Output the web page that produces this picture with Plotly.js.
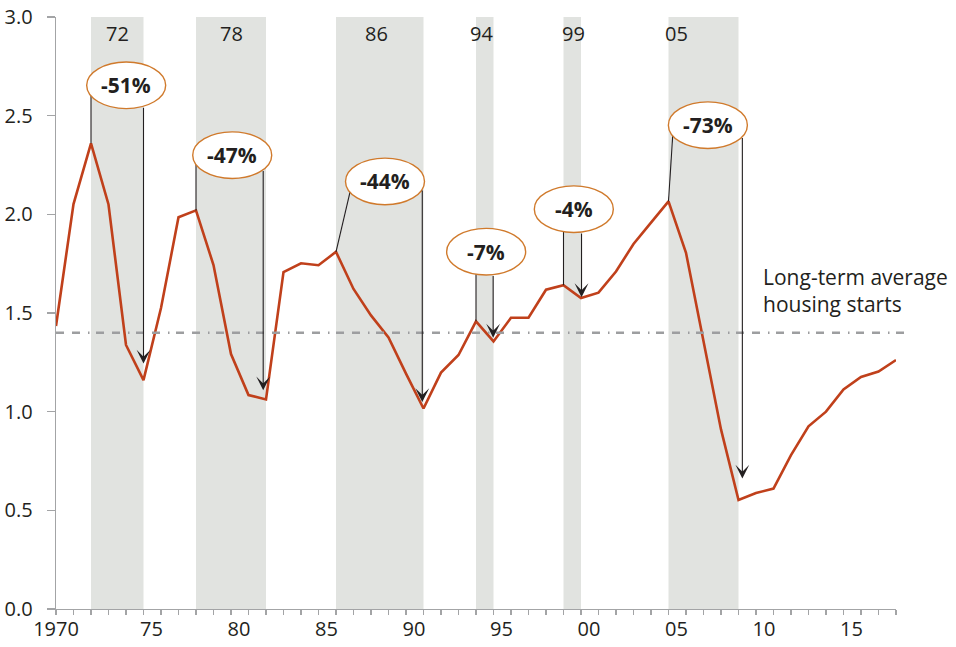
<!DOCTYPE html>
<html>
<head>
<meta charset="utf-8">
<script src="https://cdn.plot.ly/plotly-3.0.1.min.js"></script>
<style>html,body{margin:0;padding:0;background:#fff;}#chart{width:956px;height:647px;}</style>
</head>
<body>
<div id="chart"></div>
<script>
// ---- data ----
const years = [1970,1971,1972,1973,1974,1975,1976,1977,1978,1979,1980,1981,1982,1983,1984,1985,1986,1987,1988,1989,1990,1991,1992,1993,1994,1995,1996,1997,1998,1999,2000,2001,2002,2003,2004,2005,2006,2007,2008,2009,2010,2011,2012,2013,2014,2015,2016,2017,2018];
const starts = [1.434,2.052,2.36,2.05,1.338,1.16,1.525,1.985,2.02,1.743,1.292,1.084,1.062,1.707,1.752,1.742,1.81,1.622,1.488,1.376,1.193,1.016,1.198,1.287,1.458,1.356,1.476,1.476,1.618,1.641,1.576,1.603,1.71,1.85,1.958,2.066,1.805,1.355,0.91,0.552,0.588,0.61,0.78,0.926,1.0,1.113,1.176,1.203,1.262];
const avgStarts = 1.4;

const recStart = [1972,1978,1986,1994,1999,2005];
const recEnd   = [1975,1982,1991,1995,2000,2009];
const recLabels = ['72','78','86','94','99','05'];

const dropLabels = ['-51%','-47%','-44%','-7%','-4%','-73%'];
const peakYears  = [1972,1978,1986,1994,1999,2005];

const xTickLabels = ['1970','75','80','85','90','95','00','05','10','15'];
const yTickVals = [0,0.5,1,1.5,2,2.5,3];

// ---- layout positions (not data) ----
const xLabelPos = [1970,1975.45,1980.45,1985.45,1990.45,1995.45,2000.45,2005.45,2010.45,2015.45];
const recLabelX = [1973.5,1980.05,1988.3,1994.3,1999.55,2005.45];
const ellCX = [1974.01,1980.07,1988.8,1994.58,1999.59,2007.25];
const ellCY = [2.654,2.300,2.167,1.811,2.026,2.452];
const leaderTopX = [1972,1978,1986.8,1994,1999,2005.24];
const arrowX = [1975,1981.84,1990.93,1994.98,2000.03,2009.22];
const arrowHeadY = [1.244,1.108,1.049,1.375,1.58,0.661];

const M = {l:56, r:60, t:17, b:38};
const W = 956, H = 647;
const pxPerYear = (W - M.l - M.r) / 48;
const pxPerUnit = (H - M.t - M.b) / 3;
const RX = 39.5, RY = 23.3;

function ellEdgeY(i, x) {
  const dx = (x - ellCX[i]) * pxPerYear;
  const r = Math.max(0, 1 - (dx / RX) * (dx / RX));
  return ellCY[i] - (RY * Math.sqrt(r)) / pxPerUnit;
}

const gray = '#a3a4a6';
const dashGray = '#9d9ea0';
const dark = '#231f20';
const lineColor = '#c0401b';
const ellColor = '#d07a2c';

const shapes = [];
recStart.forEach((s, i) => {
  shapes.push({type:'rect', xref:'x', yref:'y', x0:s, x1:recEnd[i], y0:0, y1:3,
    fillcolor:'#e1e3e0', line:{width:0}, layer:'below'});
});
// average line
shapes.push({type:'line', xref:'paper', yref:'y', x0:0, x1:1.0127, y0:avgStarts, y1:avgStarts,
  line:{color:dashGray, width:2.5, dash:'8px,8px,8px,8px,1.5px,6.5px'}, layer:'above'});
// leader lines from peaks
peakYears.forEach((py, i) => {
  const v = starts[years.indexOf(py)];
  shapes.push({type:'line', xref:'x', yref:'y', x0:py, y0:v, x1:leaderTopX[i], y1:ellEdgeY(i, leaderTopX[i]),
    line:{color:dark, width:1.1}, layer:'above'});
});
// ellipses
ellCX.forEach((cx, i) => {
  shapes.push({type:'circle', xref:'x', yref:'y', xsizemode:'pixel', ysizemode:'pixel',
    xanchor:cx, yanchor:ellCY[i], x0:-RX, x1:RX, y0:-RY, y1:RY,
    fillcolor:'#ffffff', line:{color:ellColor, width:1.4}, layer:'above'});
});

const annotations = [];
recLabels.forEach((t, i) => {
  annotations.push({x:recLabelX[i], y:2.918, xref:'x', yref:'y', text:t, showarrow:false,
    font:{family:'Open Sans', size:20, color:dark}, xanchor:'center', yanchor:'middle'});
});
dropLabels.forEach((t, i) => {
  annotations.push({x:ellCX[i], y:ellCY[i], xref:'x', yref:'y', text:t, showarrow:false,
    font:{family:'Open Sans', size:21, color:dark, weight:700}, xanchor:'center', yanchor:'middle'});
  annotations.push({x:arrowX[i], y:arrowHeadY[i], xref:'x', yref:'y', axref:'x', ayref:'y',
    ax:arrowX[i], ay:ellEdgeY(i, arrowX[i]), text:'', showarrow:true,
    arrowhead:3, arrowsize:2.1, arrowwidth:1.1, arrowcolor:dark});
});
annotations.push({x:2010.3, y:1.614, xref:'x', yref:'y', text:'Long-term average<br>housing starts',
  showarrow:false, align:'left', xanchor:'left', yanchor:'middle',
  font:{family:'Open Sans', size:21, color:dark}});

const traces = [
  {x:years, y:starts, type:'scatter', mode:'lines', line:{color:lineColor, width:2.6}, hoverinfo:'skip'},
  {x:xLabelPos, y:xLabelPos.map(() => 0), xaxis:'x2', yaxis:'y', type:'scatter', mode:'markers',
    marker:{opacity:0}, hoverinfo:'skip'}
];

const layout = {
  width:W, height:H, margin:{l:M.l, r:M.r, t:M.t, b:M.b, pad:0},
  paper_bgcolor:'#fff', plot_bgcolor:'#fff', showlegend:false,
  font:{family:'Open Sans', color:dark, size:20},
  xaxis:{range:[1970,2018], tickmode:'array', tickvals:years, showticklabels:false,
    ticks:'outside', ticklen:5, tickwidth:1.1, tickcolor:gray,
    showline:true, linecolor:gray, linewidth:1.3, showgrid:false, zeroline:false, fixedrange:true},
  xaxis2:{range:[1970,2018], overlaying:'x', anchor:'y', side:'bottom', tickmode:'array',
    tickvals:xLabelPos, ticktext:xTickLabels, ticks:'', showline:false, showgrid:false, zeroline:false,
    tickfont:{family:'Open Sans', size:20, color:dark}, ticklabelstandoff:6},
  yaxis:{range:[0,3], tickmode:'array', tickvals:yTickVals, tickformat:'.1f',
    ticks:'outside', ticklen:8, tickwidth:1.1, tickcolor:gray,
    showline:true, linecolor:gray, linewidth:1.3, showgrid:false, zeroline:false,
    tickfont:{family:'Open Sans', size:20, color:dark}, ticklabelstandoff:10},
  shapes:shapes, annotations:annotations
};

Plotly.newPlot('chart', traces, layout, {staticPlot:true, displayModeBar:false});
</script>
</body>
</html>
